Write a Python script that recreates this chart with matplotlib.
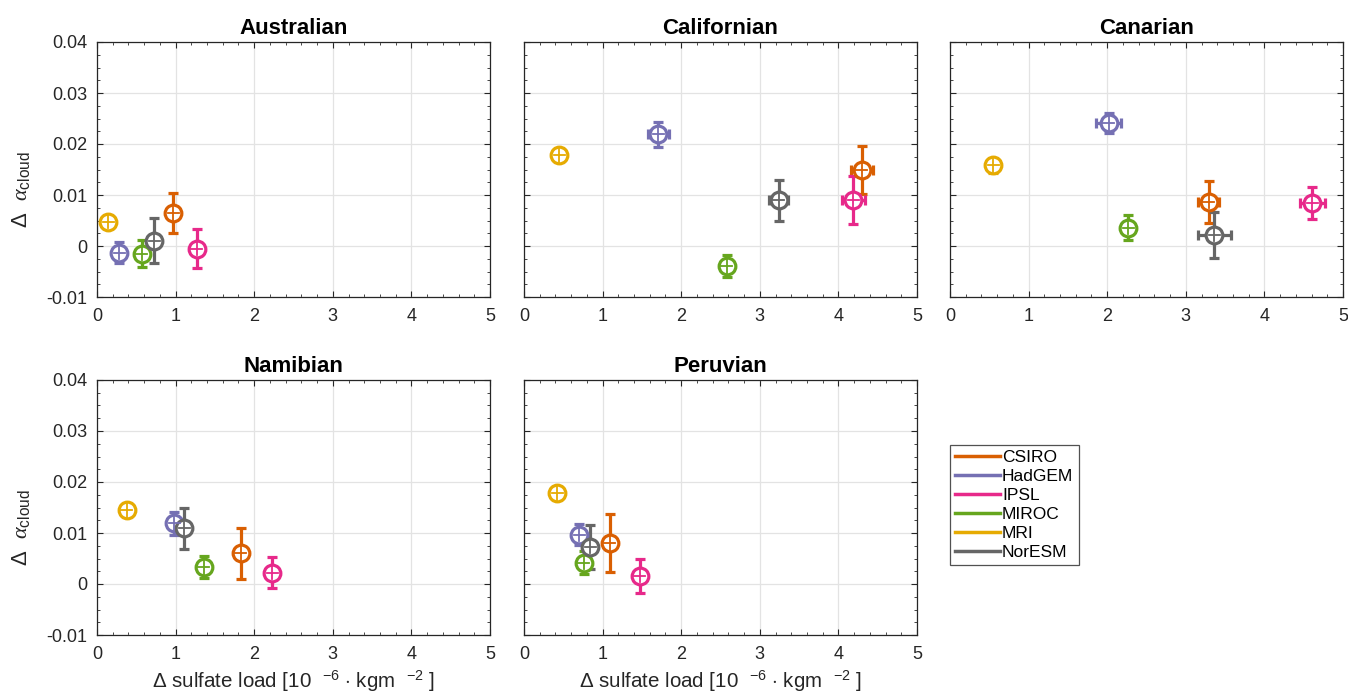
import numpy as np
import matplotlib.pyplot as plt
from matplotlib.lines import Line2D
from matplotlib.ticker import MultipleLocator

plt.rcParams['font.family'] = ['Liberation Sans', 'DejaVu Sans']
plt.rcParams['mathtext.fontset'] = 'custom'
plt.rcParams['mathtext.rm'] = 'Liberation Sans'
plt.rcParams['mathtext.it'] = 'Liberation Serif:italic'

models = ["CSIRO", "HadGEM", "IPSL", "MIROC", "MRI", "NorESM"]
colors = ["#D95F02", "#7570B3", "#E7298A", "#66A61E", "#E6AB02", "#666666"]
regions = ["Australian", "Californian", "Canarian", "Namibian", "Peruvian"]

# per region, per model (order as in `models`)
sulf = {
    "Australian":  [0.97, 0.28, 1.27, 0.57, 0.14, 0.73],
    "Californian": [4.30, 1.71, 4.19, 2.58, 0.45, 3.24],
    "Canarian":    [3.29, 2.02, 4.61, 2.27, 0.55, 3.36],
    "Namibian":    [1.83, 0.98, 2.23, 1.36, 0.38, 1.11],
    "Peruvian":    [1.09, 0.70, 1.47, 0.76, 0.42, 0.84],
}
sulf_err = {
    "Australian":  [0.05, 0.05, 0.05, 0.05, 0.04, 0.05],
    "Californian": [0.14, 0.13, 0.15, 0.05, 0.04, 0.12],
    "Canarian":    [0.13, 0.16, 0.16, 0.05, 0.04, 0.21],
    "Namibian":    [0.05, 0.05, 0.05, 0.05, 0.04, 0.05],
    "Peruvian":    [0.05, 0.05, 0.05, 0.05, 0.04, 0.05],
}
alb = {
    "Australian":  [0.0064, -0.0013, -0.0005, -0.0015, 0.0048, 0.0010],
    "Californian": [0.0149, 0.0219, 0.0090, -0.0039, 0.0178, 0.0090],
    "Canarian":    [0.0087, 0.0241, 0.0084, 0.0036, 0.0158, 0.0022],
    "Namibian":    [0.0060, 0.0119, 0.0022, 0.0033, 0.0145, 0.0109],
    "Peruvian":    [0.0080, 0.0097, 0.0016, 0.0042, 0.0178, 0.0073],
}
alb_err = {
    "Australian":  [0.0039, 0.0020, 0.0039, 0.0027, 0.0013, 0.0044],
    "Californian": [0.0048, 0.0025, 0.0047, 0.0022, 0.0014, 0.0040],
    "Canarian":    [0.0041, 0.0020, 0.0032, 0.0024, 0.0015, 0.0045],
    "Namibian":    [0.0050, 0.0022, 0.0030, 0.0021, 0.0014, 0.0041],
    "Peruvian":    [0.0057, 0.0020, 0.0033, 0.0023, 0.0013, 0.0043],
}

fig = plt.figure(figsize=(13.48, 6.94), dpi=100)

W, H = 1348, 694
lefts = [97, 524, 950]
tops = [42, 380]
aw, ah = 393, 255
pos = [(lefts[0], tops[0]), (lefts[1], tops[0]), (lefts[2], tops[0]),
       (lefts[0], tops[1]), (lefts[1], tops[1])]

xlab = r'$\Delta$ sulfate load [10  ${}^{-6}$ $\cdot$ kgm  ${}^{-2}$ ]'
ylab = r'$\Delta$  $\alpha_{\mathrm{cloud}}$'
tc = '#262626'

for i, reg in enumerate(regions):
    l, t = pos[i]
    ax = fig.add_axes([l / W, 1 - (t + ah) / H, aw / W, ah / H])
    for j, m in enumerate(models):
        x, y = sulf[reg][j], alb[reg][j]
        ax.errorbar(x, y, yerr=alb_err[reg][j], color=colors[j], lw=2.3,
                    capsize=3.5, capthick=2.3, zorder=3)
        xe = sulf_err[reg][j]
        if xe > 0.08:
            ax.errorbar(x, y, xerr=xe, color=colors[j], lw=2.3,
                        capsize=3.5, capthick=2.3, zorder=3)
        ax.plot(x, y, 'o', ms=12, mfc='white', mec=colors[j], mew=2.3, zorder=4)
        ax.plot([x - 0.07, x + 0.07], [y, y], color=colors[j], lw=1.3, zorder=5)
        ax.plot([x, x], [y - 0.0013, y + 0.0013], color=colors[j], lw=1.3, zorder=5)
    ax.set_xlim(0, 5)
    ax.set_ylim(-0.01, 0.04)
    ax.xaxis.set_major_locator(MultipleLocator(1))
    ax.xaxis.set_minor_locator(MultipleLocator(0.2))
    ax.yaxis.set_major_locator(MultipleLocator(0.01))
    ax.yaxis.set_minor_locator(MultipleLocator(0.0025))
    ax.grid(True, which='major', color='#e3e3e3', lw=0.9, zorder=0)
    ax.set_axisbelow(True)
    ax.tick_params(which='both', direction='in', top=True, right=True,
                   labelsize=13, colors=tc, labelcolor=tc)
    ax.tick_params(which='major', length=4.5)
    ax.tick_params(which='minor', length=2.5)
    ax.tick_params(axis='x', which='major', pad=8)
    ax.tick_params(axis='y', which='major', pad=7)
    for s in ax.spines.values():
        s.set_color(tc)
        s.set_linewidth(0.9)
    ax.set_title(reg, fontsize=16, fontweight='bold', pad=6)
    if i in (0, 3):
        ax.set_yticks([-0.01, 0, 0.01, 0.02, 0.03, 0.04])
        ax.set_yticklabels(['-0.01', '0', '0.01', '0.02', '0.03', '0.04'])
        ax.set_ylabel(ylab, fontsize=16, color=tc)
        ax.yaxis.set_label_coords(-0.165, 0.42)
    else:
        ax.set_yticklabels([])
    ax.set_xticks([0, 1, 2, 3, 4, 5])
    ax.set_xticklabels(['0', '1', '2', '3', '4', '5'])
    if i >= 3:
        ax.set_xlabel(xlab, fontsize=14.8, color=tc, labelpad=4)

handles = [Line2D([], [], color=c, lw=2.5) for c in colors]
leg = fig.legend(handles, models, loc='upper left',
                 bbox_to_anchor=(950 / W, 1 - 445 / H), fontsize=12.5,
                 frameon=True, fancybox=False, edgecolor=tc,
                 handlelength=2.6, handletextpad=0.1, borderpad=0.3,
                 labelspacing=0.22, borderaxespad=0)
leg.get_frame().set_linewidth(0.9)

fig.savefig('out.png', dpi=100)
